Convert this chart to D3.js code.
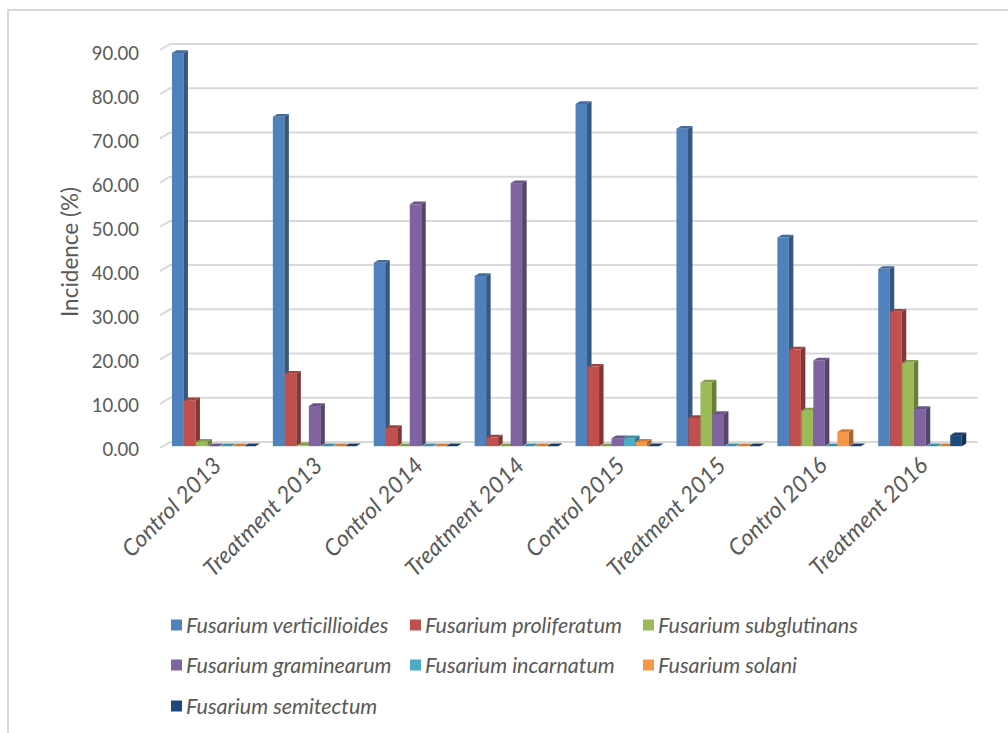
<!DOCTYPE html>
<html>
<head>
    <meta charset="utf-8">
    <title>Incidence of Fusarium species</title>
    <script src="https://cdn.jsdelivr.net/npm/d3@7/dist/d3.min.js"></script>
    <style>
        body { margin: 0; background: #fff; }
        text { font-family: Lato, "Open Sans", sans-serif; fill: #595959; }
        .cat-label, .legend-label { font-style: italic; }
    </style>
</head>
<body>
<div id="chart"></div>
<script>
    // data
    const categories = ["Control 2013", "Treatment 2013", "Control 2014", "Treatment 2014",
                        "Control 2015", "Treatment 2015", "Control 2016", "Treatment 2016"];
    const seriesNames = ["Fusarium verticillioides", "Fusarium proliferatum", "Fusarium subglutinans",
                         "Fusarium graminearum", "Fusarium incarnatum", "Fusarium solani",
                         "Fusarium semitectum"];
    const verticillioides = [88.9, 74.5, 41.5, 38.5, 77.4, 71.8, 47.2, 40.1];
    const proliferatum    = [10.4, 16.4, 4.1, 2.0, 18.0, 6.4, 21.9, 30.4];
    const subglutinans    = [1.0, 0.2, 0, 0, 0, 14.4, 8.1, 18.9];
    const graminearum     = [0, 9.1, 54.7, 59.5, 1.8, 7.3, 19.4, 8.4];
    const incarnatum      = [0, 0, 0, 0, 1.8, 0, 0, 0];
    const solani          = [0, 0, 0, 0, 1.0, 0, 3.2, 0];
    const semitectum      = [0, 0, 0, 0, 0, 0, 0, 2.5];
    const yTicks = [0, 10, 20, 30, 40, 50, 60, 70, 80, 90];

    const seriesValues = [verticillioides, proliferatum, subglutinans, graminearum,
                          incarnatum, solani, semitectum];
    const colors = ["#4f81bd", "#c0504d", "#9bbb59", "#8064a2", "#4bacc6", "#f79646", "#1f497d"];

    const width = 1008, height = 733;
    // 3d depth of the plot box (front plane -> back wall)
    const DX = 10, DY = -6;
    const z0 = 0.3, z1 = 0.75;   // bar depth range inside the box
    const barW = 11.5;

    const svg = d3.select("#chart").append("svg")
        .attr("width", width)
        .attr("height", height);

    // chart frame
    svg.append("path")
        .attr("d", "M8,733 L8,10 L1008,10")
        .attr("fill", "none")
        .attr("stroke", "#d9d9d9")
        .attr("stroke-width", 2);

    const y = d3.scaleLinear().domain([0, 90]).range([448, 50]);
    const x = d3.scaleBand().domain(categories)
        .range([160.5, 967.7])
        .paddingInner(0.1675)
        .paddingOuter(0.08375);
    const xSub = d3.scaleBand().domain(d3.range(seriesNames.length))
        .range([0, x.bandwidth()]);

    // gridlines on the back wall, with the little side-wall diagonal
    const x0 = x.range()[0] - 0.5, x1 = x.range()[1];
    svg.append("g").selectAll("path")
        .data(yTicks)
        .join("path")
        .attr("d", t => `M${x0},${y(t)} L${x0 + DX},${y(t) + DY} L${x1 + DX},${y(t) + DY}`)
        .attr("fill", "none")
        .attr("stroke", "#d9d9d9")
        .attr("stroke-width", 2);

    // y tick labels
    svg.append("g").selectAll("text")
        .data(yTicks)
        .join("text")
        .attr("x", 139)
        .attr("y", t => y(t) + 1 + 2 * t / 90)
        .attr("text-anchor", "end")
        .attr("dominant-baseline", "central")
        .style("font-size", "18.5px")
        .text(t => t.toFixed(2));

    // y title
    svg.append("text")
        .attr("transform", "translate(69,252) rotate(-90)")
        .attr("text-anchor", "middle")
        .attr("dominant-baseline", "central")
        .style("font-size", "22.5px")
        .text("Incidence (%)");

    // bars as 3d prisms
    const ddx = DX * (z1 - z0), ddy = DY * (z1 - z0);
    const bars = [];
    categories.forEach((c, ci) => {
        seriesValues.forEach((vals, si) => {
            bars.push({cat: c, s: si, v: vals[ci]});
        });
    });

    const barG = svg.append("g").selectAll("g")
        .data(bars)
        .join("g");

    function geom(d) {
        const bx = x(d.cat) + xSub(d.s) + DX * z0;
        const top = y(d.v) + DY * z0;
        const bot = y(0) + DY * z0;
        return {bx, top, bot};
    }

    barG.append("rect")
        .attr("x", d => geom(d).bx)
        .attr("y", d => geom(d).top)
        .attr("width", barW)
        .attr("height", d => geom(d).bot - geom(d).top)
        .attr("fill", d => colors[d.s]);

    barG.append("path")
        .attr("d", d => {
            const g = geom(d);
            return `M${g.bx + barW},${g.top} L${g.bx + barW + ddx},${g.top + ddy} ` +
                   `L${g.bx + barW + ddx},${g.bot + ddy} L${g.bx + barW},${g.bot} Z`;
        })
        .attr("fill", d => d3.color(colors[d.s]).darker(1.1));

    barG.append("path")
        .attr("d", d => {
            const g = geom(d);
            return `M${g.bx},${g.top} L${g.bx + ddx},${g.top + ddy} ` +
                   `L${g.bx + barW + ddx},${g.top + ddy} L${g.bx + barW},${g.top} Z`;
        })
        .attr("fill", d => d3.color(colors[d.s]).darker(0.5));

    // category labels
    svg.append("g").selectAll("text")
        .data(categories)
        .join("text")
        .attr("class", "cat-label")
        .attr("transform", c => `translate(${x(c) + x.bandwidth() / 2 + 12},467) rotate(-45)`)
        .attr("text-anchor", "end")
        .style("font-size", "23px")
        .text(c => c);

    // legend
    const legendPos = [
        [171, 625], [410, 625], [643, 625],
        [171, 665], [410, 665], [643, 665],
        [171, 706]
    ];
    const legend = svg.append("g").selectAll("g")
        .data(seriesNames)
        .join("g")
        .attr("transform", (d, i) => `translate(${legendPos[i][0]},${legendPos[i][1]})`);

    legend.append("rect")
        .attr("x", 0)
        .attr("y", -5.5)
        .attr("width", 11)
        .attr("height", 11)
        .attr("fill", (d, i) => colors[i]);

    legend.append("text")
        .attr("class", "legend-label")
        .attr("x", 15)
        .attr("y", 0)
        .attr("dominant-baseline", "central")
        .style("font-size", "21.5px")
        .text(d => d);
</script>
</body>
</html>
